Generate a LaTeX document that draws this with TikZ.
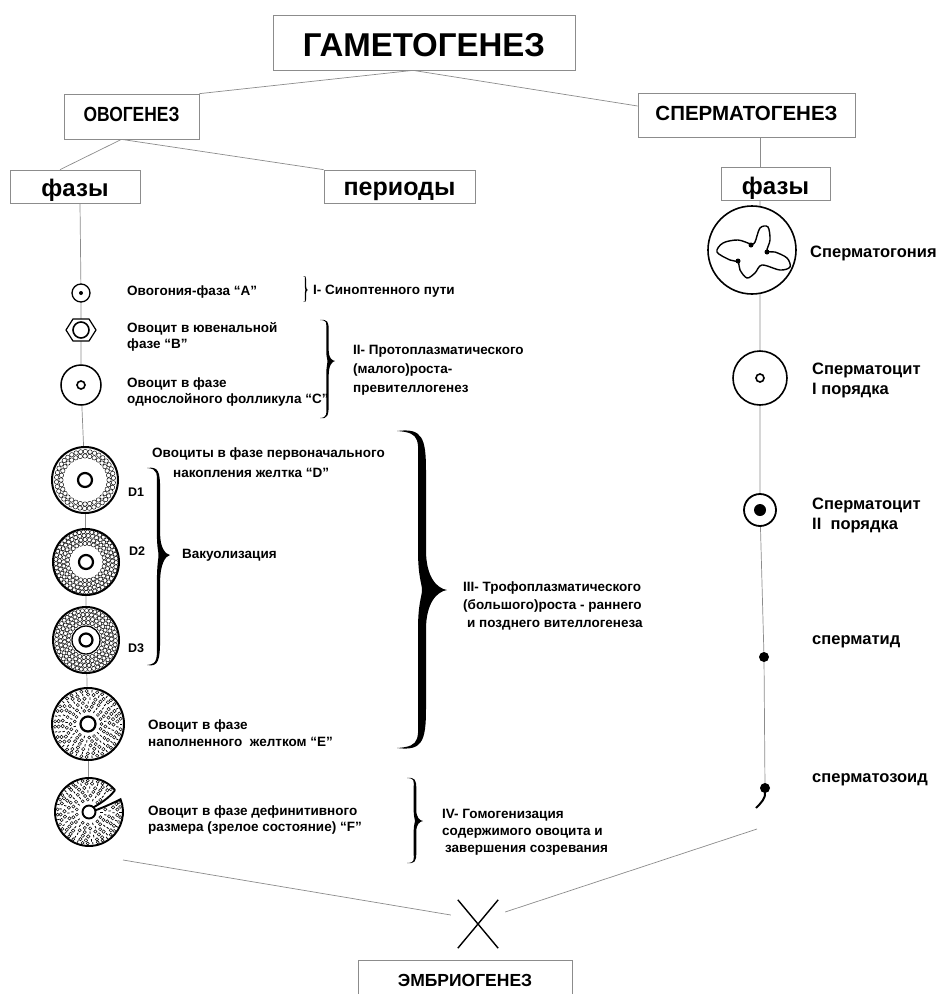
\documentclass[tikz,border=0pt]{standalone}
\usepackage{fontspec}
\setmainfont{Liberation Sans}
\usepackage{graphicx}

% filled curly brace pointing right: x0, ytop, ytip, ybottom, width, thickness
\newcommand\bracefill[6]{%
 \pgfmathsetmacro\bxa{#1}\pgfmathsetmacro\byA{#2}\pgfmathsetmacro\byt{#3}\pgfmathsetmacro\byB{#4}%
 \pgfmathsetmacro\bxm{#1+0.5*#5}\pgfmathsetmacro\bxl{\bxm-0.5*#6}\pgfmathsetmacro\bxr{\bxm+0.5*#6}%
 \pgfmathsetmacro\bxt{#1+#5}\pgfmathsetmacro\bhA{#3-#2}\pgfmathsetmacro\bhB{#4-#3}%
 \pgfmathsetmacro\bxq{\bxm+0.3*#5}%
 \fill[black] (\bxa,\byA) .. controls (\bxm,{\byA+0.01*\bhA}) and (\bxl,{\byA+0.06*\bhA}) .. (\bxl,{\byA+0.25*\bhA})
   -- (\bxl,{\byt-0.25*\bhA}) .. controls (\bxl,{\byt-0.08*\bhA}) and (\bxm,{\byt-0.04*\bhA}) .. (\bxm,\byt)
   .. controls (\bxm,{\byt+0.04*\bhB}) and (\bxl,{\byt+0.08*\bhB}) .. (\bxl,{\byt+0.25*\bhB})
   -- (\bxl,{\byB-0.25*\bhB}) .. controls (\bxl,{\byB-0.06*\bhB}) and (\bxm,{\byB-0.01*\bhB}) .. (\bxa,\byB)
   .. controls (\bxm,{\byB+0.02*\bhB}) and (\bxr,{\byB-0.04*\bhB}) .. (\bxr,{\byB-0.25*\bhB})
   -- (\bxr,{\byt+0.25*\bhB}) .. controls (\bxr,{\byt+0.08*\bhB}) and (\bxq,{\byt+0.01*\bhB}) .. (\bxt,\byt)
   .. controls (\bxq,{\byt-0.01*\bhA}) and (\bxr,{\byt-0.08*\bhA}) .. (\bxr,{\byt-0.25*\bhA})
   -- (\bxr,{\byA+0.25*\bhA}) .. controls (\bxr,{\byA+0.04*\bhA}) and (\bxm,{\byA-0.02*\bhA}) .. (\bxa,\byA) -- cycle;}

% ring of small granules: radius, granule radius, angle offset
\newcommand\granrow[3]{%
 \pgfmathtruncatemacro\gn{2*pi*#1/(2.1*#2)}%
 \foreach \k in {1,...,\gn}{\draw[line width=0.45pt] ({\k*360/\gn+#3}:#1) circle[radius=#2];}}

% mixed ring (circles and short dashes), skipping angles between #4 and #5
\newcommand\mixrow[5]{%
 \pgfmathtruncatemacro\gn{2*pi*#1/(2.5*#2+1.2)}%
 \foreach \k in {1,...,\gn}{%
  \pgfmathsetmacro\ga{mod(\k*360/\gn+#3,360)}%
  \pgfmathtruncatemacro\gskip{and(\ga>#4,\ga<#5)}%
  \pgfmathtruncatemacro\gm{mod(\k,3)}%
  \ifnum\gskip=0
   \ifnum\gm=0
    \draw[line width=0.8pt] (\ga:{#1-1.2}) -- (\ga:{#1+1.2});
   \else
    \draw[line width=0.5pt] (\ga:#1) circle[radius=#2];
   \fi
  \fi}}

\tikzset{
 conn/.style={draw=black!45, line width=0.7pt},
 box/.style={draw=black!45, line width=0.7pt, inner sep=0pt, align=center, text depth=0pt},
 lab/.style={anchor=west, align=left, inner sep=0pt, font={\fontsize{13.5}{16.5}\selectfont\bfseries}},
 rlab/.style={anchor=west, align=left, inner sep=0pt, font={\fontsize{16.5}{20}\selectfont\bfseries}},
 dlab/.style={anchor=west, inner sep=0pt, font={\fontsize{12.5}{14}\selectfont\bfseries}},
}

\begin{document}
\begin{tikzpicture}[x=1pt,y=-1pt]
\useasboundingbox (0,0) rectangle (938,994);
\fill[white] (0,0) rectangle (938,994);

% ---------- boxes ----------
\node[box, minimum width=302pt, minimum height=55pt, text height=28.6pt, font={\fontsize{33}{33}\selectfont\bfseries}] (gam) at (424,42.5) {ГАМЕТОГЕНЕЗ};
\node[box, minimum width=135pt, minimum height=45pt, text height=9.6pt, font={\fontsize{20.5}{20}\selectfont\bfseries}] (ovo) at (131.5,116.5) {\scalebox{0.85}[1]{ОВОГЕНЕЗ}};
\node[box, minimum width=217pt, minimum height=44pt, text height=10.6pt, font={\fontsize{20.5}{20}\selectfont\bfseries}] (sperm) at (746.5,115) {СПЕРМАТОГЕНЕЗ};
\node[box, minimum width=130pt, minimum height=33pt, text height=19.4pt, font={\fontsize{24}{24}\selectfont\bfseries}] (faz1) at (75,186.5) {фазы};
\node[box, minimum width=151pt, minimum height=33pt, text height=18pt, font={\fontsize{25}{25}\selectfont\bfseries}] (per) at (399.5,186.5) {периоды};
\node[box, minimum width=109pt, minimum height=33pt, text height=22.4pt, font={\fontsize{24}{24}\selectfont\bfseries}] (faz2) at (775.5,183.5) {фазы};
\node[box, minimum width=214pt, minimum height=40pt, text height=12.6pt, font={\fontsize{17.5}{18}\selectfont\bfseries}] (emb) at (465,980) {ЭМБРИОГЕНЕЗ};

% ---------- tree connectors ----------
\draw[conn] ([xshift=-11pt]gam.south) -- (ovo.north east);
\draw[conn] ([xshift=-11pt]gam.south) -- ([yshift=9pt]sperm.west);
\draw[conn] ([xshift=-10pt]ovo.south) -- ([xshift=-15pt]faz1.north);
\draw[conn] ([xshift=-10pt]ovo.south) -- (per.north west);
\draw[conn] ([xshift=13.5pt]sperm.south) -- ([xshift=-15.5pt]faz2.north);

% ---------- cell anchors ----------
\coordinate (cA) at (81,293);
\coordinate (cB) at (81,330);
\coordinate (cC) at (81,385);
\coordinate (cD1) at (85,480);
\coordinate (cD2) at (86,562);
\coordinate (cD3) at (86,640);
\coordinate (cE) at (88,724);
\coordinate (cF) at (89,812);
\coordinate (sg) at (760,250);
\coordinate (sc1) at (760,378);
\coordinate (sc2) at (760,510);
\coordinate (st) at (764,657);
\coordinate (sz) at (765,788);

\draw[conn] ([xshift=5pt]faz1.south) -- (cA) -- (cB) -- (cC) -- (cD1) -- (cD2) -- (cD3) -- (cE) -- (cF);
\draw[conn] ([xshift=-15.5pt]faz2.south) -- (sg) -- (sc1) -- (sc2) -- (st) -- (sz);

% ---------- oocytes ----------
\begin{scope}[shift={(cA)}, yscale=-1]
 \draw[line width=1.3pt, fill=white] (0,0) circle[radius=9];
 \fill (0,0) circle[radius=2];
\end{scope}
\begin{scope}[shift={(cB)}, yscale=-1]
 \draw[line width=1.2pt, fill=white] (-15,0) -- (-8,11) -- (8,11) -- (15,0) -- (8,-11) -- (-8,-11) -- cycle;
 \draw[line width=1.6pt] (0,0) circle[radius=8];
\end{scope}
\begin{scope}[shift={(cC)}, yscale=-1]
 \draw[line width=1.5pt, fill=white] (0,0) circle[radius=20];
 \draw[line width=1.6pt] (0,0) circle[radius=4];
\end{scope}
\begin{scope}[shift={(cD1)}, yscale=-1]
 \fill[white] (0,0) circle[radius=33];
 \granrow{24}{2.2}{0}
 \granrow{28.5}{2.2}{4}
 \draw[line width=2pt] (0,0) circle[radius=33];
 \draw[line width=2.2pt] (0,0) circle[radius=7];
\end{scope}
\begin{scope}[shift={(cD2)}, yscale=-1]
 \fill[white] (0,0) circle[radius=33];
 \granrow{18.5}{2}{0}
 \granrow{22.5}{2}{5}
 \granrow{26.5}{2}{2}
 \granrow{30.2}{2}{7}
 \draw[line width=2pt] (0,0) circle[radius=33];
 \draw[line width=2.2pt] (0,0) circle[radius=7];
\end{scope}
\begin{scope}[shift={(cD3)}, yscale=-1]
 \fill[white] (0,0) circle[radius=33];
 \granrow{17.5}{2}{0}
 \granrow{21.5}{2}{5}
 \granrow{25.5}{2}{2}
 \granrow{29.5}{2}{7}
 \draw[line width=2pt] (0,0) circle[radius=33];
 \draw[line width=1.3pt] (0,0) circle[radius=14];
 \draw[line width=2.2pt] (0,0) circle[radius=6.5];
\end{scope}
\begin{scope}[shift={(cE)}, yscale=-1]
 \fill[white] (0,0) circle[radius=36];
 \mixrow{13.5}{1.5}{0}{400}{400}
 \mixrow{17.5}{1.6}{9}{400}{400}
 \mixrow{21.5}{1.6}{3}{400}{400}
 \mixrow{25.5}{1.7}{11}{400}{400}
 \mixrow{29.5}{1.7}{5}{400}{400}
 \mixrow{33}{1.6}{0}{400}{400}
 \draw[line width=2pt] (0,0) circle[radius=36];
 \draw[line width=2.2pt] (0,0) circle[radius=7.5];
\end{scope}
\begin{scope}[shift={(cF)}, yscale=-1]
 \fill[white] (0,0) circle[radius=34];
 \mixrow{12.5}{1.5}{0}{12}{46}
 \mixrow{16.5}{1.6}{9}{14}{43}
 \mixrow{20.5}{1.6}{3}{16}{42}
 \mixrow{24.5}{1.7}{11}{17}{42}
 \mixrow{28.5}{1.7}{5}{18}{41}
 \mixrow{31.5}{1.5}{0}{19}{41}
 \draw[line width=1.9pt] (40:34) arc[start angle=40, end angle=382, radius=34]
   .. controls (22,8) and (13,4) .. (6.3,1.7);
 \draw[line width=1.9pt] (40:34) .. controls (20,14) and (12,9) .. (4.5,4.7);
 \draw[line width=1.9pt] (0,0) circle[radius=6.5];
\end{scope}

% ---------- spermatogenesis cells ----------
\begin{scope}[shift={([xshift=-8pt]sg)}, yscale=-1]
 \draw[line width=1.6pt, fill=white] (0,0) circle[radius=44];
 \draw[line width=1.4pt] plot[smooth cycle, tension=0.55] coordinates {(38,-17) (35,-8) (23,-2) (15,-1) (18,10) (16,23) (8,22) (3,8) (-1,6) (-14,10) (-29,7) (-35,-2) (-22,-10) (-14,-12) (-12,-20) (-5,-28) (3,-23) (10,-15) (28,-20)};
 \fill (-1,5) circle[radius=2.5];
 \fill (15,-2) circle[radius=2.5];
 \fill (-14,-11) circle[radius=2.5];
\end{scope}
\begin{scope}[shift={(sc1)}, yscale=-1]
 \draw[line width=1.6pt, fill=white] (0,0) circle[radius=27];
 \draw[line width=1.6pt] (0,0) circle[radius=4];
\end{scope}
\begin{scope}[shift={(sc2)}, yscale=-1]
 \draw[line width=1.8pt, fill=white] (0,0) circle[radius=16];
 \fill (0,0) circle[radius=6];
\end{scope}
\fill (st) circle[radius=5];
\fill (sz) circle[radius=5];
\draw[line width=2pt] ([yshift=-4pt]sz) .. controls ([xshift=1pt,yshift=-10pt]sz) and ([xshift=-4pt,yshift=-15pt]sz) .. ([xshift=-9pt,yshift=-20pt]sz);

% ---------- oocyte labels ----------
\node[lab] (lA) at (127,292) {Овогония-фаза “А”};
\node[lab] (lB) at (127,337) {Овоцит в ювенальной\\фазе “В”};
\node[lab] (lC) at (127,392) {Овоцит в фазе\\однослойного фолликула “С”};
\node[lab, font={\fontsize{13.5}{20}\selectfont\bfseries}] (lD) at (152,463) {Овоциты в фазе первоначального\\\hspace*{21pt}накопления желтка “D”};
\node[dlab] (lD1) at (128,492) {D1};
\node[dlab] (lD2) at (129,551) {D2};
\node[dlab] (lD3) at (128,648) {D3};
\node[lab] (lVac) at (182,555) {Вакуолизация};
\node[lab, font={\fontsize{13.5}{17}\selectfont\bfseries}] (lE) at (148,733) {Овоцит в фазе\\наполненного\ \ желтком “Е”};
\node[lab] (lF) at (148,820) {Овоцит в фазе дефинитивного\\размера (зрелое состояние) “F”};

% ---------- braces and periods ----------
\bracefill{303}{276}{290}{302}{5}{1.3}
\bracefill{320}{320}{361}{418}{15}{2.4}
\bracefill{147}{468}{555}{665}{23}{3.2}
\bracefill{397}{431}{590}{748}{50}{8}
\bracefill{407}{778}{821}{863}{16}{2.6}

\node[lab] (pI) at (313,291) {I- Синоптенного пути};
\node[lab, font={\fontsize{13.5}{19}\selectfont\bfseries}] (pII) at (353,370) {II- Протоплазматического\\(малого)роста-\\превителлогенез};
\node[lab, font={\fontsize{13.5}{18}\selectfont\bfseries}] (pIII) at (463,606) {III- Трофоплазматического\\(большого)роста - раннего\\\hspace*{4pt}и позднего вителлогенеза};
\node[lab, font={\fontsize{13.5}{17}\selectfont\bfseries}] (pIV) at (442,832) {IV- Гомогенизация\\содержимого овоцита и\\\hspace*{3pt}завершения созревания};

% ---------- spermatogenesis labels ----------
\node[rlab] (rSg) at (810,253) {Сперматогония};
\node[rlab] (rSc1) at (812,380) {Сперматоцит\\I порядка};
\node[rlab] (rSc2) at (812,515) {Сперматоцит\\II\ \ порядка};
\node[rlab] (rSt) at (812,642) {сперматид};
\node[rlab] (rSz) at (812,780) {сперматозоид};

% ---------- fusion ----------
\coordinate (Lst) at (123,860);
\coordinate (Rst) at (757,829);
\node[minimum width=40pt, minimum height=48pt, inner sep=0pt] (cross) at (478,924) {};
\draw[line width=1.4pt] (cross.north west) -- (cross.south east) (cross.north east) -- (cross.south west);
\draw[conn] (Lst) -- ([xshift=-7pt,yshift=9pt]cross.west);
\draw[conn] (Rst) -- ([xshift=7pt,yshift=12pt]cross.east);
\end{tikzpicture}
\end{document}
